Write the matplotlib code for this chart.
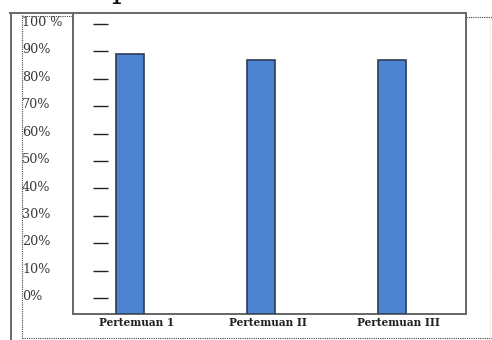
import numpy as np
import matplotlib
matplotlib.use("Agg")
import matplotlib.pyplot as plt
from matplotlib.lines import Line2D
from matplotlib.transforms import blended_transform_factory

categories = ["Pertemuan 1", "Pertemuan II", "Pertemuan III"]
values = [89, 87, 87]
tick_values = [0, 10, 20, 30, 40, 50, 60, 70, 80, 90, 100]
tick_labels = ["0%", "10%", "20%", "30%", "40%", "50%", "60%", "70%", "80%", "90%", "100 %"]

W, H = 492, 340


def fx(px):
    return px / W


def fy(py):
    return 1 - py / H


fig = plt.figure(figsize=(W / 100, H / 100), dpi=100)
fig.patch.set_facecolor("white")

# plot area
ax = fig.add_axes([fx(73), fy(314), fx(466) - fx(73), fy(13) - fy(314)])
ymin, ymax = -5.84, 104.0
ax.set_ylim(ymin, ymax)
ax.set_xlim(-0.435, 2.565)

x = np.arange(len(categories))
heights = [v - ymin for v in values]
ax.bar(x, heights, bottom=ymin, width=0.22, color="#4d84d2",
       edgecolor="#2e3c55", linewidth=1.2, zorder=3)

# fake tick dashes inside the plot
ax.hlines(tick_values, -0.28, -0.165, color="#222222", linewidth=1.0)

ax.set_yticks([])
ax.set_xticks(x + 0.05)
ax.set_xticklabels(categories, family="DejaVu Serif", fontsize=7.6,
                   fontweight="bold", color="#222222")
ax.tick_params(axis="x", length=0, pad=2)
for s in ax.spines.values():
    s.set_color("#666666")
    s.set_linewidth(1.4)

# y labels on the left, in a separate text box
tr = blended_transform_factory(fig.transFigure, ax.transData)
for v, lab in zip(tick_values, tick_labels):
    ax.text(fx(22), v + 0.5, lab, transform=tr, ha="left", va="center",
            family="DejaVu Serif", fontsize=9.2, color="#3a3a3a", clip_on=False)

# outer frame lines
fig.add_artist(Line2D([fx(10), fx(466)], [fy(13), fy(13)], color="#6a6a6a", lw=1.4))
fig.add_artist(Line2D([fx(11), fx(11)], [fy(13), fy(340)], color="#6a6a6a", lw=1.4))

# dotted boxes
dot = dict(color="#444444", lw=0.8, linestyle=(0, (1, 1)))
fig.add_artist(Line2D([fx(22), fx(22)], [fy(15), fy(338)], **dot))
fig.add_artist(Line2D([fx(22), fx(73)], [fy(15.5), fy(15.5)], **dot))
fig.add_artist(Line2D([fx(22), fx(492)], [fy(338), fy(338)], **dot))
fig.add_artist(Line2D([fx(466), fx(492)], [fy(17), fy(17)], **dot))
fig.add_artist(Line2D([fx(490), fx(490)], [fy(17), fy(338)], color="#e6e6e6", lw=0.8,
                      linestyle=(0, (1, 1))))

# clipped title remnant at the top
fig.text(fx(111), fy(-3), "p", family="DejaVu Serif", fontsize=22, color="#111111",
         ha="left", va="baseline")

fig.savefig("out.png", dpi=100)
